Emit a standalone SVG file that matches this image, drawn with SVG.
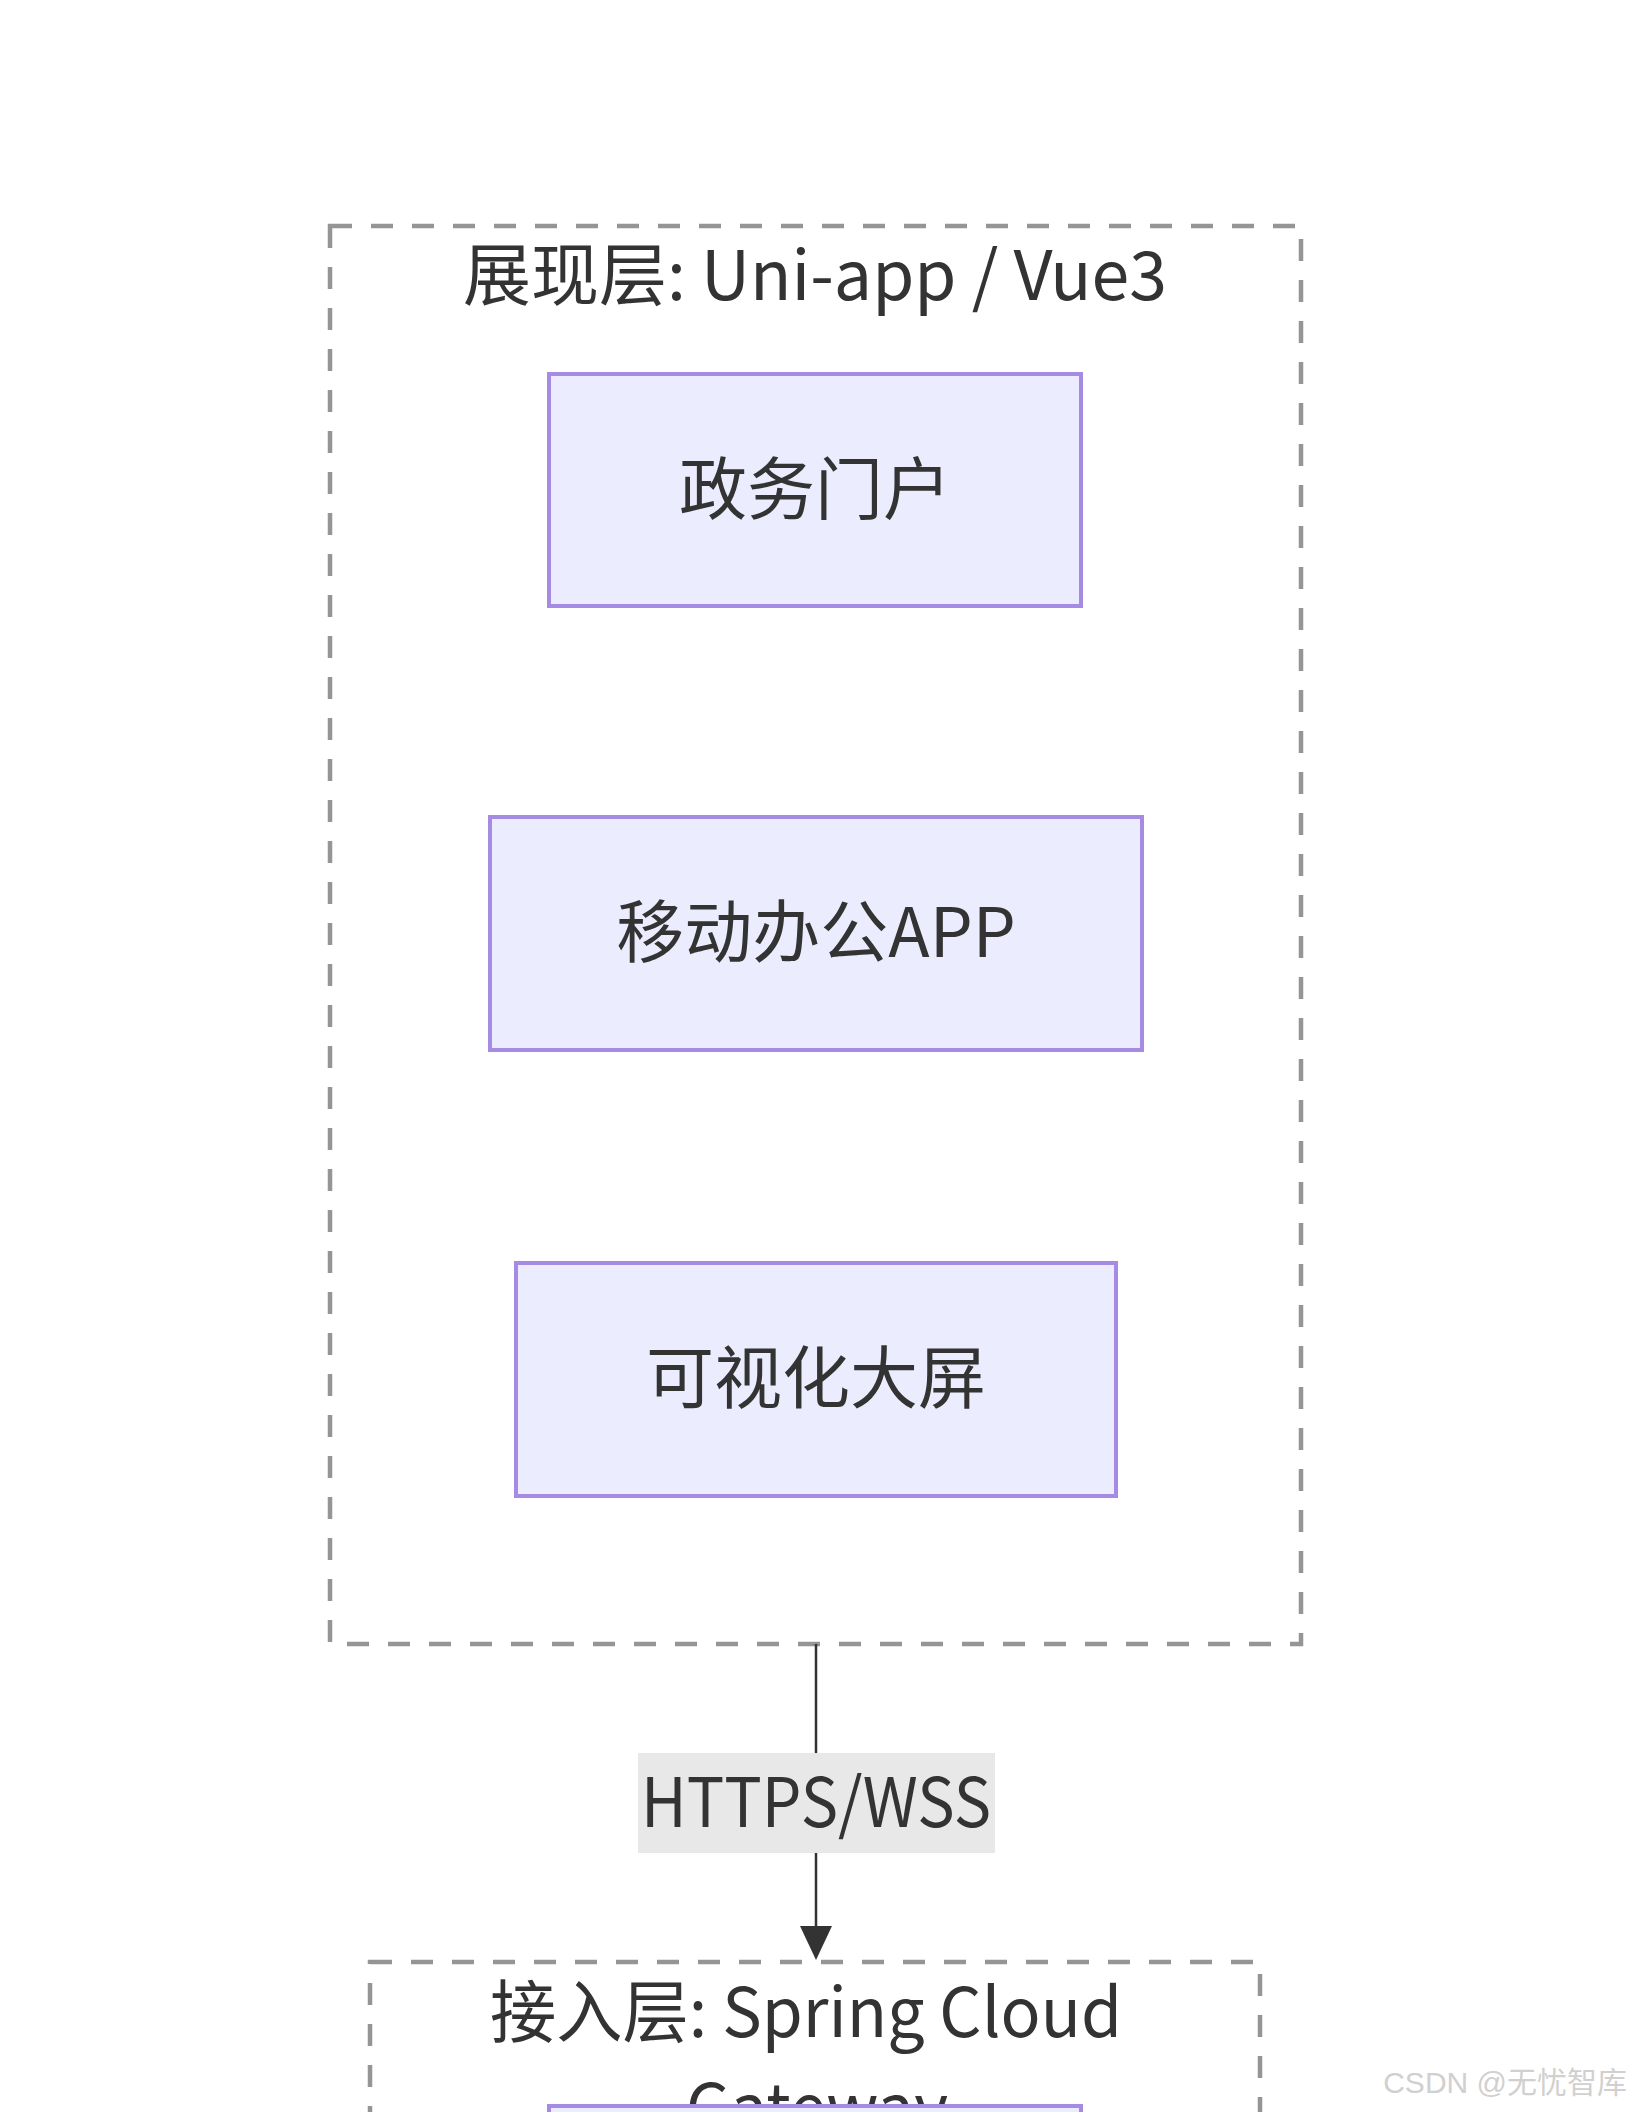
<svg xmlns="http://www.w3.org/2000/svg" width="1632" height="2112" viewBox="0 0 1632 2112">
<style>
.cluster{fill:none;stroke:#959595;stroke-width:4.5;stroke-dasharray:22 19;}
.node{fill:#ECECFF;stroke:#a58be3;stroke-width:4;}
.t{font-family:"Noto Sans CJK SC","Noto Sans",sans-serif;font-size:68px;fill:#333;text-anchor:middle;}
.edge{stroke:#333;stroke-width:2.5;fill:none;}
.wm{font-family:"Liberation Sans","Noto Sans CJK SC",sans-serif;font-size:30px;fill:#d0d0d0;text-anchor:end;}
</style>
<rect width="1632" height="2112" fill="#ffffff"/>
<g id="cluster-present">
<rect class="cluster" x="330" y="226" width="971" height="1418"/>
<text class="t" x="815" y="300" textLength="704" lengthAdjust="spacingAndGlyphs">展现层: Uni-app / Vue3</text>
</g>
<g id="cluster-access">
<rect class="cluster" x="370" y="1962" width="890" height="300"/>
<text class="t" x="806" y="2037" textLength="632" lengthAdjust="spacingAndGlyphs">接入层: Spring Cloud</text>
<text class="t" x="817" y="2133" textLength="262" lengthAdjust="spacingAndGlyphs">Gateway</text>
</g>
<g id="node-portal">
<rect class="node" x="549" y="374" width="532" height="232"/>
<text class="t" x="815" y="514">政务门户</text>
</g>
<g id="node-app">
<rect class="node" x="490" y="817" width="652" height="233"/>
<text class="t" x="816" y="957">移动办公APP</text>
</g>
<g id="node-screen">
<rect class="node" x="516" y="1263" width="600" height="233"/>
<text class="t" x="816" y="1403">可视化大屏</text>
</g>
<g id="node-gateway-partial">
<rect class="node" x="549" y="2106" width="532" height="60"/>
</g>
<g id="connectors">
<path class="edge" d="M816,1644 L816,1926"/>
<path d="M800,1926 L832,1926 L816,1960 z" fill="#333"/>
<rect x="638" y="1753" width="357" height="100" fill="#e8e8e8"/>
<text class="t" x="816" y="1827" textLength="350" lengthAdjust="spacingAndGlyphs">HTTPS/WSS</text>
</g>
<text class="wm" x="1627" y="2093">CSDN @无忧智库</text>
</svg>
